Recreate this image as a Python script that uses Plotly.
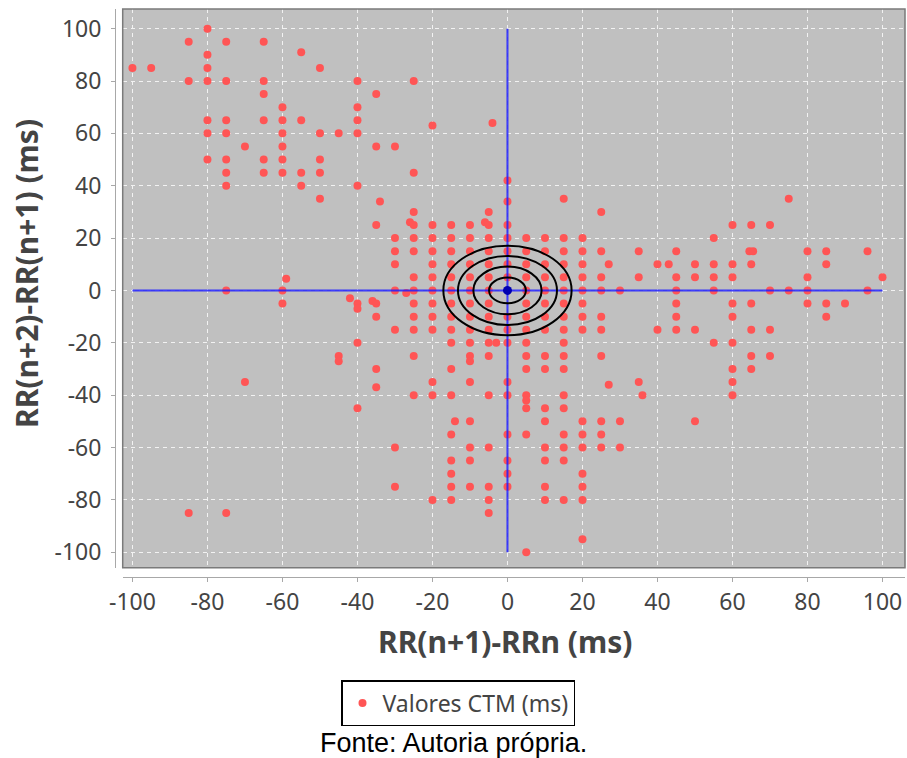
import plotly.graph_objects as go

# ---------------- data ----------------
row_y = [100, 95, 91, 90, 85, 80, 75, 70, 65, 64, 63, 60, 55, 50, 45, 42, 40, 35, 34, 30,
         26, 25, 20, 15, 10, 5, 4.5, 0, -1, -3, -4, -5, -7, -10, -15, -20, -25, -27, -30,
         -35, -36, -37, -40, -42, -45, -50, -55, -60, -65, -70, -75, -80, -85, -95, -100]
row_x = [
    [-80],
    [-85, -75, -65],
    [-55],
    [-80],
    [-100, -95, -80, -50],
    [-85, -80, -75, -65, -40, -25],
    [-65, -35],
    [-60, -40],
    [-80, -75, -65, -60, -55, -40],
    [-4],
    [-20],
    [-80, -75, -60, -50, -45, -40],
    [-70, -60, -35, -30],
    [-80, -75, -65, -60, -50],
    [-75, -65, -60, -55, -50, -25],
    [0],
    [-75, -55, -40],
    [-50, 15, 75],
    [-34, 0],
    [-25, -5, 25],
    [-26, -6],
    [-35, -25, -20, -15, -10, -5, 0, 60, 65, 70],
    [-30, -25, -20, -15, -10, -5, 0, 5, 10, 15, 20, 55],
    [-30, -25, -20, -15, -10, -5, 0, 5, 10, 15, 20, 25, 35, 45, 64.5, 65.5, 80, 85, 96],
    [-30, -20, -15, -10, -5, 0, 5, 10, 15, 20, 27, 40, 43, 50, 55, 60, 65, 85],
    [-25, -20, -15, -10, -5, 0, 5, 10, 15, 20, 25, 35, 45, 50, 55, 60, 80, 100],
    [-59],
    [-75, -60, -30, -25, -20, -15, -10, -5, 5, 10, 15, 20, 25, 30, 45, 55, 70, 75, 80, 96],
    [-27],
    [-42],
    [-36],
    [-60, -40, -35, -25, -20, -15, -10, -5, 5, 10, 15, 20, 45, 60, 65, 80, 85, 90],
    [-40],
    [-35, -25, -20, -15, -10, -5, 0, 5, 10, 15, 20, 25, 45, 60, 85],
    [-30, -25, -20, -15, -10, -5, 0, 5, 10, 15, 20, 25, 40, 45, 50, 65, 70],
    [-40, -15, -10, -5, -3, 0, 5, 15, 55, 60],
    [-45, -25, -10, -5, 5, 10, 15, 25, 65, 70],
    [-45, -10],
    [-35, -15, 5, 10, 15, 60, 65],
    [-70, -20, -10, 0, 35, 60],
    [27],
    [-35],
    [-25, -20, -15, -5, 0, 5, 15, 36, 60],
    [5],
    [-40, 5, 10, 15],
    [-14, -10, 10, 20, 25, 30, 50],
    [-15, 0, 5, 15, 20, 25],
    [-30, -10, -5, 10, 15, 20, 25, 30],
    [-15, -10, 0, 10, 15],
    [-15, 0, 20],
    [-30, -15, -10, -5, 0, 10, 20],
    [-20, -15, -5, 10, 15, 20],
    [-85, -75, -5],
    [20],
    [5],
]

ring_radii = [4.9, 9.1, 13.2, 17.1]
cross_extent = [-100, 100]
center_point = [0]
x_ticks = [-100, -80, -60, -40, -20, 0, 20, 40, 60, 80, 100]
y_ticks = [-100, -80, -60, -40, -20, 0, 20, 40, 60, 80, 100]

x_vals = [x for y, xs in zip(row_y, row_x) for x in xs]
y_vals = [y for y, xs in zip(row_y, row_x) for _ in xs]

# ---------------- layout geometry ----------------
W, H = 907, 758
L, R, T, B = 115, 2, 9, 181
PW, PH = W - L - R, H - T - B


def pxx(px):
    return (px - L) / PW


def pxy(py):
    return (H - B - py) / PH


SANS = "Noto Sans, Open Sans, sans-serif"
TICK_FONT = dict(family=SANS, size=23, color="#444444")
TITLE_FONT = dict(family=SANS, size=30, color="#444444")

fig = go.Figure()

fig.add_trace(go.Scatter(
    x=x_vals, y=y_vals, mode="markers", name="Valores CTM (ms)",
    marker=dict(color="#ff5555", size=8, line=dict(width=0)),
))
fig.add_trace(go.Scatter(
    x=cross_extent, y=[0, 0], mode="lines", showlegend=False, hoverinfo="skip",
    line=dict(color="rgba(30,30,255,0.85)", width=2),
))
fig.add_trace(go.Scatter(
    x=[0, 0], y=cross_extent, mode="lines", showlegend=False, hoverinfo="skip",
    line=dict(color="rgba(30,30,255,0.85)", width=2),
))
fig.add_trace(go.Scatter(
    x=center_point, y=center_point, mode="markers", showlegend=False, hoverinfo="skip",
    marker=dict(color="#0000b0", size=9),
))

for r in ring_radii:
    fig.add_shape(type="circle", xref="x", yref="y", x0=-r, x1=r, y0=-r, y1=r,
                  line=dict(color="black", width=2), layer="above")

# plot frame
fig.add_shape(type="rect", xref="x domain", yref="y domain", x0=0, x1=1, y0=0, y1=1,
              line=dict(color="#7a7a7a", width=1.5), layer="above")

fig.update_layout(
    width=W, height=H,
    margin=dict(l=L, r=R, t=T, b=B, pad=0),
    paper_bgcolor="white",
    plot_bgcolor="#c0c0c0",
    showlegend=True,
    legend=dict(
        orientation="h", x=pxx(458), xanchor="center", y=pxy(680), yanchor="top",
        bordercolor="black", borderwidth=1.5, bgcolor="white",
        font=dict(family=SANS, size=23, color="#444444"),
        itemsizing="trace",
    ),
    xaxis=dict(
        range=[-102.6, 106], domain=[pxx(122.7), 1], anchor="free", position=0,
        tickvals=x_ticks, ticktext=[str(v) for v in x_ticks],
        showgrid=True, gridcolor="#f2f2f2", griddash="4px,4px", gridwidth=1,
        zeroline=False, showline=True, linecolor="#a8a8a8", linewidth=1,
        ticks="outside", ticklen=4, tickcolor="#a8a8a8", tickfont=TICK_FONT,
        ticklabelstandoff=0,
    ),
    yaxis=dict(
        range=[-105.9, 107.5], domain=[pxy(567.7), 1], anchor="free", position=0,
        tickvals=y_ticks, ticktext=[str(v) for v in y_ticks],
        showgrid=True, gridcolor="#f2f2f2", griddash="4px,4px", gridwidth=1,
        zeroline=False, showline=True, linecolor="#a8a8a8", linewidth=1,
        ticks="outside", ticklen=4, tickcolor="#a8a8a8", tickfont=TICK_FONT,
        ticklabelstandoff=5,
    ),
    annotations=[
        dict(text="<b>RR(n+1)-RRn (ms)</b>", x=pxx(505), y=pxy(641), xref="paper", yref="paper",
             showarrow=False, xanchor="center", yanchor="middle", font=TITLE_FONT),
        dict(text="<b>RR(n+2)-RR(n+1) (ms)</b>", x=pxx(26), y=pxy(274), xref="paper", yref="paper",
             showarrow=False, xanchor="center", yanchor="middle", textangle=-90, font=TITLE_FONT),
        dict(text="Fonte: Autoria própria.", x=pxx(453), y=pxy(743), xref="paper", yref="paper",
             showarrow=False, xanchor="center", yanchor="middle",
             font=dict(family="Liberation Sans, Arial, sans-serif", size=27, color="black")),
    ],
)

fig.write_html("out.html")
